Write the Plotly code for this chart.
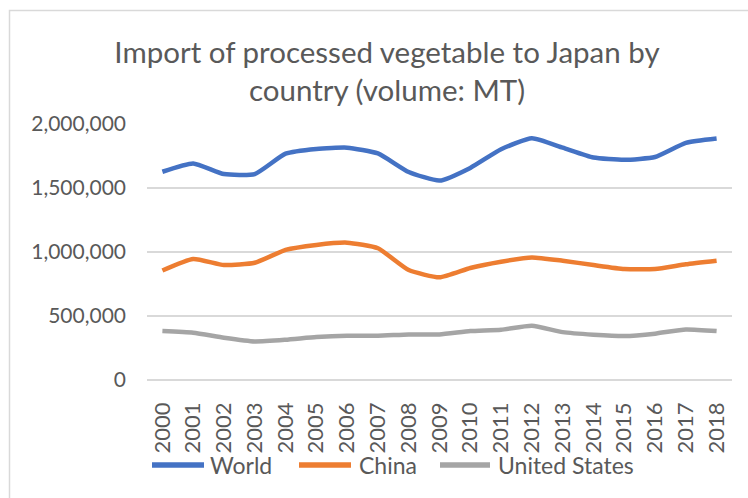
import plotly.graph_objects as go

years = [str(y) for y in range(2000, 2019)]
world = [1627000, 1692000, 1609000, 1609000, 1768000, 1805000, 1815000, 1770000,
         1625000, 1558000, 1657000, 1803000, 1888000, 1815000, 1738000, 1720000,
         1742000, 1852000, 1886000]
china = [855000, 945000, 898000, 916000, 1016000, 1055000, 1073000, 1029000,
         859000, 802000, 875000, 924000, 958000, 932000, 898000, 867000,
         867000, 904000, 932000]
usa = [382000, 369000, 330000, 301000, 314000, 335000, 346000, 346000,
       356000, 356000, 382000, 393000, 424000, 374000, 354000, 343000,
       362000, 395000, 382000]
y_ticks = [0, 500000, 1000000, 1500000, 2000000]
series_names = ["World", "China", "United States"]
series_colors = ["#4472C4", "#ED7D31", "#A5A5A5"]
title_text = "Import of processed vegetable to Japan by<br>country (volume: MT)"

FONT = "Lato"
GRAY = "#595959"
W, H = 748, 498
L, R, T, B = 147, 16, 124, 118
PW, PH = W - L - R, H - T - B


def px(x):
    return (x - L) / PW


def py(y):
    return (H - B - y) / PH


fig = go.Figure()
for name, vals, col in zip(series_names, [world, china, usa], series_colors):
    fig.add_trace(go.Scatter(x=years, y=vals, name=name, mode="lines",
                             line=dict(color=col, width=4.5, shape="spline", smoothing=0.5),
                             showlegend=False))

# custom legend (long swatches like the reference)
shapes = [dict(type="rect", xref="paper", yref="paper",
               x0=px(9.5), x1=1.3, y0=-0.6, y1=py(10.5),
               line=dict(color="#d9d9d9", width=1.5), fillcolor="rgba(0,0,0,0)",
               layer="below")]
annotations = []
leg_lines = [(150, 206), (297, 353), (438, 492)]
leg_text_x = [208, 357, 496]
for (x0, x1), tx, name, col in zip(leg_lines, leg_text_x, series_names, series_colors):
    shapes.append(dict(type="line", xref="paper", yref="paper",
                       x0=px(x0 + 2), x1=px(x1 - 2), y0=py(465), y1=py(465),
                       line=dict(color=col, width=5.5)))
    annotations.append(dict(text=name, xref="paper", yref="paper",
                            x=px(tx), y=py(465), xanchor="left", yanchor="middle",
                            showarrow=False,
                            font=dict(family=FONT, size=23, color=GRAY)))

fig.update_layout(
    width=W, height=H,
    margin=dict(l=L, r=R, t=T, b=B, autoexpand=False),
    paper_bgcolor="white", plot_bgcolor="white",
    font=dict(family=FONT, color=GRAY),
    title=dict(text=title_text, x=387/W, xref="container", xanchor="center",
               y=1-63/H, yref="container", yanchor="middle",
               font=dict(family=FONT, size=29.5, color=GRAY)),
    showlegend=False,
    shapes=shapes,
    annotations=annotations,
)
fig.update_xaxes(type="category", range=[-0.5, 18.5], tickangle=-90,
                 showgrid=False, showline=False, ticks="",
                 ticklabelstandoff=17,
                 tickfont=dict(family=FONT, size=22, color=GRAY))
fig.update_yaxes(range=[0, 2000000], tickvals=y_ticks, tickformat=",d",
                 showgrid=True, gridcolor="#d9d9d9", gridwidth=1.5,
                 zeroline=True, zerolinecolor="#d9d9d9", zerolinewidth=1.5,
                 showline=False, ticks="", ticklen=0,
                 ticklabelstandoff=20,
                 tickfont=dict(family=FONT, size=21, color=GRAY))

fig.write_html("out.html",
               config={"displayModeBar": False},
               post_script="document.body.style.margin='0';document.body.style.overflow='hidden';")
